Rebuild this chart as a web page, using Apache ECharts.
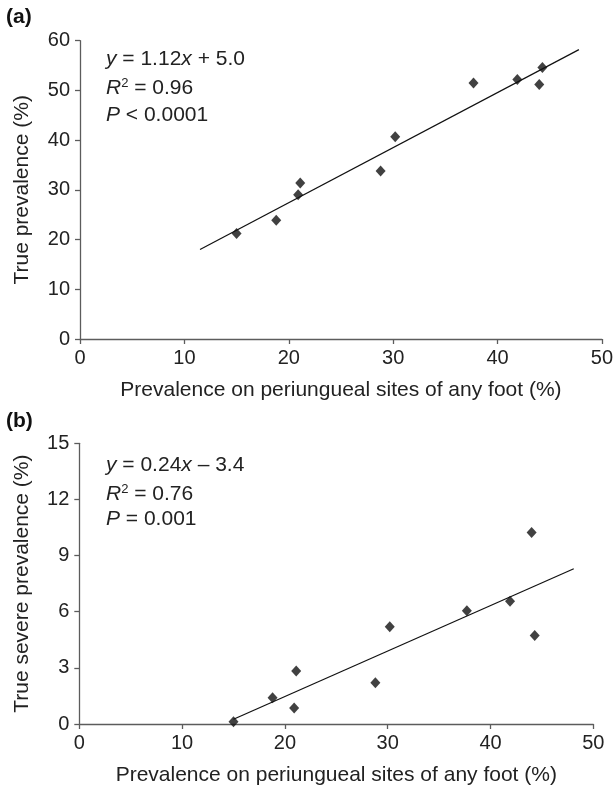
<!DOCTYPE html>
<html>
<head>
<meta charset="utf-8">
<script src="https://cdn.jsdelivr.net/npm/echarts@6/dist/echarts.min.js"></script>
<style>
html,body{margin:0;padding:0;background:#fff;}
#c{width:616px;height:790px;}
</style>
</head>
<body>
<div id="c"></div>
<script>
// Data
const periungueal = [15.0, 18.8, 20.9, 21.1, 28.8, 30.2, 37.7, 41.9, 44.0, 44.3];
const truePrev = [21.2, 23.9, 29.0, 31.4, 33.8, 40.7, 51.5, 52.2, 51.2, 54.6];
const trueSevere = [0.12, 1.4, 0.85, 2.83, 2.2, 5.2, 6.05, 6.56, 10.23, 4.73];
// regression line end points as drawn
const fitAx = [11.5, 47.8];
const fitAy = [18.0, 58.2];
const fitBx = [15.0, 48.1];
const fitBy = [0.25, 8.3];
const xTicksMax = 50;
const yAMax = 60;
const yBMax = 15;

const FONT = '"Liberation Sans", Arial, Helvetica, sans-serif';
const FS = 21;
const TFS = 20;
const axisCol = '#5c5c5c';
const txtCol = '#222';

const chart = echarts.init(document.getElementById('c'), null, {renderer: 'canvas'});

function mkX(gi) {
  return {
    type: 'value', gridIndex: gi, min: 0, max: xTicksMax, interval: 10,
    name: 'Prevalence on periungueal sites of any foot (%)',
    nameLocation: 'middle', nameGap: 41,
    nameTextStyle: {fontFamily: FONT, fontSize: FS, color: txtCol},
    axisLine: {show: true, lineStyle: {color: axisCol, width: 1.3}},
    axisTick: {show: true, inside: false, length: 5, lineStyle: {color: axisCol, width: 1.3}},
    axisLabel: {fontFamily: FONT, fontSize: TFS, color: txtCol, margin: 9},
    splitLine: {show: false}
  };
}
function mkY(gi, max, interval, name) {
  return {
    type: 'value', gridIndex: gi, min: 0, max: max, interval: interval,
    name: name, nameLocation: 'middle', nameGap: 47, nameRotate: 90,
    nameTextStyle: {fontFamily: FONT, fontSize: FS, color: txtCol},
    axisLine: {show: true, lineStyle: {color: axisCol, width: 1.3}},
    axisTick: {show: true, inside: false, length: 5, lineStyle: {color: axisCol, width: 1.3}},
    axisLabel: {fontFamily: FONT, fontSize: TFS, color: txtCol, margin: 10},
    splitLine: {show: false}
  };
}

const rich = {
  i: {fontStyle: 'italic', fontFamily: FONT, fontSize: FS, fill: txtCol},
  n: {fontFamily: FONT, fontSize: FS, fill: txtCol},
  s: {fontFamily: FONT, fontSize: 13, fill: txtCol, verticalAlign: 'top', padding: [0, 0, 9, 0]}
};
function txt(x, y, text) {
  return {type: 'text', left: x, top: y, style: {text: text, rich: rich, font: FS + 'px ' + FONT, fill: txtCol}};
}

chart.setOption({
  animation: false,
  backgroundColor: '#fff',
  grid: [
    {left: 80, top: 40.7, width: 523.3, height: 298.3, containLabel: false},
    {left: 79.3, top: 443.3, width: 514, height: 280.7, containLabel: false}
  ],
  xAxis: [mkX(0), mkX(1)],
  yAxis: [mkY(0, yAMax, 10, 'True prevalence (%)'), mkY(1, yBMax, 3, 'True severe prevalence (%)')],
  series: [
    {type: 'line', xAxisIndex: 0, yAxisIndex: 0, data: fitAx.map((v, i) => [v, fitAy[i]]),
     symbol: 'none', lineStyle: {color: '#111', width: 1.2}, z: 2},
    {type: 'scatter', xAxisIndex: 0, yAxisIndex: 0, data: periungueal.map((v, i) => [v, truePrev[i]]),
     symbol: 'diamond', symbolSize: [10, 11], itemStyle: {color: '#111'}, z: 3},
    {type: 'line', xAxisIndex: 1, yAxisIndex: 1, data: fitBx.map((v, i) => [v, fitBy[i]]),
     symbol: 'none', lineStyle: {color: '#111', width: 1.2}, z: 2},
    {type: 'scatter', xAxisIndex: 1, yAxisIndex: 1, data: periungueal.map((v, i) => [v, trueSevere[i]]),
     symbol: 'diamond', symbolSize: [10, 11], itemStyle: {color: '#111'}, z: 3}
  ],
  graphic: [
    {type: 'text', left: 6, top: 7, style: {text: '(a)', font: 'bold 21px ' + FONT, fill: '#111'}},
    {type: 'text', left: 6, top: 411, style: {text: '(b)', font: 'bold 21px ' + FONT, fill: '#111'}},
    txt(106, 49, '{i|y}{n| = 1.12}{i|x}{n| + 5.0}'),
    txt(106, 77, '{i|R}{s|2}{n| = 0.96}'),
    txt(106, 105, '{i|P}{n| < 0.0001}'),
    txt(106, 455, '{i|y}{n| = 0.24}{i|x}{n| \u2013 3.4}'),
    txt(106, 483, '{i|R}{s|2}{n| = 0.76}'),
    txt(106, 509, '{i|P}{n| = 0.001}')
  ]
});
</script>
</body>
</html>
